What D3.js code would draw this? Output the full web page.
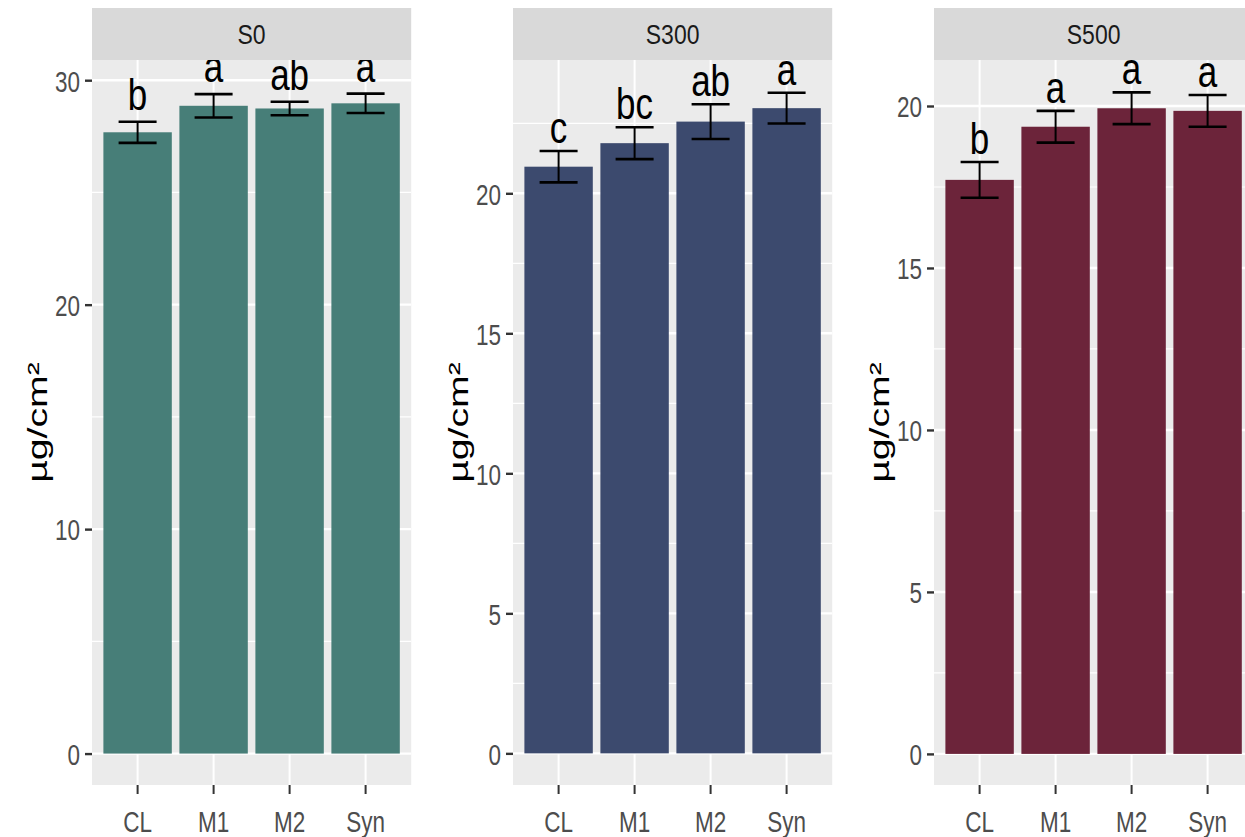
<!DOCTYPE html>
<html>
<head>
<meta charset="utf-8">
<script src="https://cdn.jsdelivr.net/npm/d3@7"></script>
<style>
  body { margin: 0; background: #fff; }
  svg { display: block; font-family: "Liberation Sans", Arial, sans-serif; }
</style>
</head>
<body>
<svg id="chart" width="1245" height="837"></svg>
<script>
// data
var categories = ["CL", "M1", "M2", "Syn"];
var panels = ["S0", "S300", "S500"];
var meanS0 = [27.68, 28.86, 28.74, 28.97];
var seS0 = [0.47, 0.52, 0.3, 0.43];
var meanS300 = [20.95, 21.79, 22.56, 23.04];
var seS300 = [0.56, 0.57, 0.62, 0.55];
var meanS500 = [17.72, 19.36, 19.93, 19.85];
var seS500 = [0.55, 0.49, 0.49, 0.49];
var lettersS0 = ["b", "a", "ab", "a"];
var lettersS300 = ["c", "bc", "ab", "a"];
var lettersS500 = ["b", "a", "a", "a"];
var ticksS0 = [0, 10, 20, 30];
var ticksS300 = [0, 5, 10, 15, 20];
var ticksS500 = [0, 5, 10, 15, 20];
var colors = ["#477e78", "#3c4a6e", "#6c243a"];

var means = [meanS0, meanS300, meanS500];
var ses = [seS0, seS300, seS500];
var letters = [lettersS0, lettersS300, lettersS500];
var ticks = [ticksS0, ticksS300, ticksS500];
var domains = [[-1.4, 30.9], [-1.13, 24.76], [-0.96, 21.42]];
var lefts = [92, 513, 934];
var letterGap = [12, 8, 8];

var svg = d3.select("#chart");
var plotTop = 60, plotBottom = 785, pw = 319.2;
var sy = 1.35; // text is drawn taller than wide

panels.forEach(function (name, p) {
  var x0 = lefts[p];
  var x = d3.scaleBand().domain(categories).range([x0, x0 + pw])
      .paddingInner(0.1).paddingOuter(0.15);
  var y = d3.scaleLinear().domain(domains[p]).range([plotBottom, plotTop]);
  var g = svg.append("g");

  // panel background
  g.append("rect").attr("x", x0).attr("y", plotTop).attr("width", pw)
    .attr("height", plotBottom - plotTop).attr("fill", "#ebebeb");

  // gridlines
  var major = ticks[p];
  var step = major[1] - major[0];
  var minor = d3.range(step / 2, domains[p][1], step);
  g.selectAll(".minor").data(minor).enter().append("line")
    .attr("x1", x0).attr("x2", x0 + pw)
    .attr("y1", function (d) { return y(d); }).attr("y2", function (d) { return y(d); })
    .attr("stroke", "#fff").attr("stroke-width", 1.2);
  g.selectAll(".major").data(major).enter().append("line")
    .attr("x1", x0).attr("x2", x0 + pw)
    .attr("y1", function (d) { return y(d); }).attr("y2", function (d) { return y(d); })
    .attr("stroke", "#fff").attr("stroke-width", 2.4);
  g.selectAll(".vgrid").data(categories).enter().append("line")
    .attr("x1", function (d) { return x(d) + x.bandwidth() / 2; })
    .attr("x2", function (d) { return x(d) + x.bandwidth() / 2; })
    .attr("y1", plotTop).attr("y2", plotBottom)
    .attr("stroke", "#fff").attr("stroke-width", 2);

  var rows = categories.map(function (c, i) {
    return { cat: c, m: means[p][i], se: ses[p][i], lab: letters[p][i] };
  });

  // bars
  g.selectAll(".bar").data(rows).enter().append("rect")
    .attr("x", function (d) { return x(d.cat); })
    .attr("width", x.bandwidth())
    .attr("y", function (d) { return y(d.m); })
    .attr("height", function (d) { return y(0) - y(d.m); })
    .attr("fill", colors[p]);

  // error bars
  var cap = x.step() * 0.25;
  var eb = g.selectAll(".eb").data(rows).enter().append("g")
    .attr("stroke", "#000");
  eb.append("line")
    .attr("x1", function (d) { return x(d.cat) + x.bandwidth() / 2; })
    .attr("x2", function (d) { return x(d.cat) + x.bandwidth() / 2; })
    .attr("y1", function (d) { return y(d.m - d.se); })
    .attr("y2", function (d) { return y(d.m + d.se); })
    .attr("stroke-width", 2);
  [-1, 1].forEach(function (s) {
    eb.append("line")
      .attr("x1", function (d) { return x(d.cat) + x.bandwidth() / 2 - cap; })
      .attr("x2", function (d) { return x(d.cat) + x.bandwidth() / 2 + cap; })
      .attr("y1", function (d) { return y(d.m + s * d.se); })
      .attr("y2", function (d) { return y(d.m + s * d.se); })
      .attr("stroke-width", 2.6);
  });

  // significance letters
  g.selectAll(".lab").data(rows).enter().append("text")
    .attr("transform", function (d) {
      return "translate(" + (x(d.cat) + x.bandwidth() / 2) + "," +
        (y(d.m + d.se) - letterGap[p]) + ") scale(1," + 1.27 + ")";
    })
    .attr("text-anchor", "middle")
    .attr("font-size", 35).attr("fill", "#000")
    .text(function (d) { return d.lab; });

  // strip on top (covers letters that run over)
  g.append("rect").attr("x", x0).attr("y", 8).attr("width", pw)
    .attr("height", plotTop - 8).attr("fill", "#d9d9d9");
  g.append("text")
    .attr("transform", "translate(" + (x0 + pw / 2) + "," + 44 + ") scale(1,1.22)")
    .attr("text-anchor", "middle").attr("font-size", 23).attr("fill", "#1a1a1a")
    .text(name);

  // y axis
  var ya = g.append("g").attr("transform", "translate(" + x0 + ",0)")
    .call(d3.axisLeft(y).tickValues(major).tickSize(7).tickPadding(5));
  ya.select(".domain").remove();
  ya.selectAll(".tick line").attr("stroke", "#333").attr("stroke-width", 2.4);
  ya.selectAll(".tick text")
    .attr("x", null).attr("dy", null)
    .attr("transform", "translate(-12,0) scale(1," + sy + ") translate(0,8)")
    .attr("font-size", 22.5).attr("fill", "#4d4d4d")
    .attr("font-family", "Liberation Sans, Arial, sans-serif");

  // x axis
  var xa = g.append("g").attr("transform", "translate(0," + plotBottom + ")")
    .call(d3.axisBottom(x).tickSize(9).tickPadding(3));
  xa.select(".domain").remove();
  xa.selectAll(".tick line").attr("stroke", "#333").attr("stroke-width", 2);
  xa.selectAll(".tick text")
    .attr("y", null).attr("dy", null)
    .attr("transform", "translate(0,47) scale(1," + sy + ")")
    .attr("font-size", 22.5).attr("fill", "#4d4d4d")
    .attr("font-family", "Liberation Sans, Arial, sans-serif");

  // y title
  g.append("text")
    .attr("transform", "translate(" + (x0 - 45) + "," + ((plotTop + plotBottom) / 2) + ") rotate(-90) scale(1.4,1)")
    .attr("text-anchor", "middle").attr("font-size", 28).attr("fill", "#000")
    .text("µg/cm²");
});
</script>
</body>
</html>
